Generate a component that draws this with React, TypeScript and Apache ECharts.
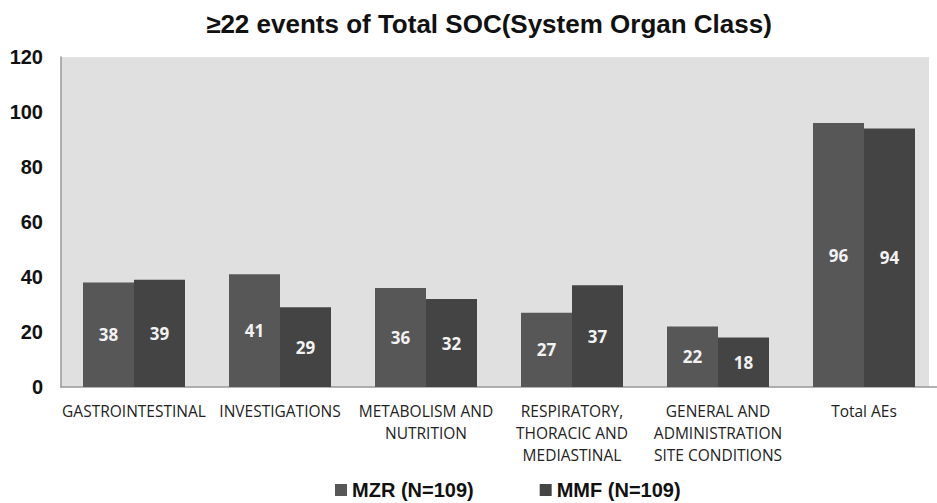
import React, { useEffect, useRef } from "react";
import * as echarts from "echarts";

const categories = [
  "GASTROINTESTINAL",
  "INVESTIGATIONS",
  "METABOLISM AND\nNUTRITION",
  "RESPIRATORY,\nTHORACIC AND\nMEDIASTINAL",
  "GENERAL AND\nADMINISTRATION\nSITE CONDITIONS",
  "Total AEs",
];
const mzrValues = [38, 41, 36, 27, 22, 96];
const mmfValues = [39, 29, 32, 37, 18, 94];
const seriesNames = ["MZR (N=109)", "MMF (N=109)"];
const yTicks = { min: 0, max: 120, interval: 20 };
const titleText = "≥22 events of Total SOC(System Organ Class)";

export default function App() {
  const ref = useRef<HTMLDivElement>(null);
  useEffect(() => {
    if (!ref.current) return;
    const chart = echarts.init(ref.current, undefined, { renderer: "svg" });
    const labelStyle = {
      show: true,
      position: "inside" as const,
      color: "#f2f2f2",
      fontFamily: "Open Sans",
      fontWeight: "bold" as const,
      fontSize: 17,
    };
    chart.setOption({
      animation: false,
      backgroundColor: "#ffffff",
      title: {
        text: titleText,
        left: 484,
        textAlign: "center",
        top: 6,
        textStyle: {
          fontFamily: "Liberation Sans",
          fontWeight: "bold",
          fontSize: 26,
          color: "#111",
        },
      },
      graphic: [
        {
          type: "rect",
          z: -10,
          shape: { x: 61, y: 57, width: 868, height: 330 },
          style: { fill: "#e0e0e0" },
          silent: true,
        },
      ],
      legend: {
        data: seriesNames,
        top: 475,
        left: 330,
        itemWidth: 12,
        itemHeight: 12,
        itemGap: 66,
        icon: "rect",
        textStyle: {
          fontFamily: "Liberation Sans",
          fontWeight: "bold",
          fontSize: 20,
          color: "#111",
        },
      },
      grid: { left: 61, right: -11, top: 57, bottom: 116 },
      xAxis: {
        type: "category",
        data: categories,
        axisLine: { show: true, lineStyle: { color: "#999", width: 1.5 } },
        axisTick: { show: false },
        axisLabel: {
          interval: 0,
          margin: 13,
          fontFamily: "Open Sans",
          fontSize: 15.5,
          lineHeight: 22,
          color: "#222",
        },
      },
      yAxis: {
        type: "value",
        min: yTicks.min,
        max: yTicks.max,
        interval: yTicks.interval,
        axisLine: { show: true, lineStyle: { color: "#999", width: 1.5 } },
        axisTick: { show: false },
        splitLine: { show: false },
        axisLabel: {
          margin: 18,
          fontFamily: "Liberation Sans",
          fontWeight: "bold",
          fontSize: 20,
          color: "#111",
        },
      },
      series: [
        {
          name: seriesNames[0],
          type: "bar",
          data: mzrValues,
          barWidth: 51,
          barGap: "0%",
          itemStyle: { color: "#575757" },
          label: labelStyle,
        },
        {
          name: seriesNames[1],
          type: "bar",
          data: mmfValues,
          barWidth: 51,
          barGap: "0%",
          itemStyle: { color: "#444444" },
          label: labelStyle,
        },
      ],
    });
    return () => chart.dispose();
  }, []);
  return (
    <div
      ref={ref}
      style={{ position: "fixed", left: 0, top: 0, width: 937, height: 503 }}
    />
  );
}
